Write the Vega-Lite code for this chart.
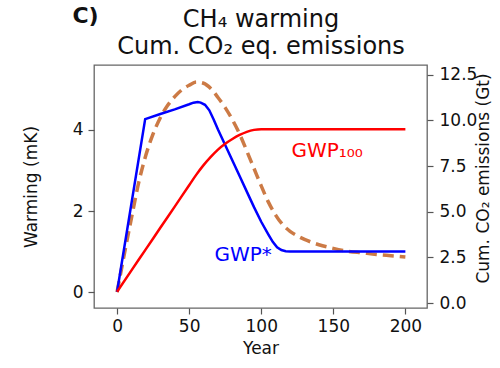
{
  "$schema": "https://vega.github.io/schema/vega-lite/v6.json",
  "width": 333,
  "height": 243,
  "autosize": {"type": "none"},
  "padding": {"left": 94, "top": 65, "right": 73, "bottom": 60},
  "background": "white",
  "config": {
    "view": {"stroke": "#666", "strokeWidth": 1.3},
    "axis": {
      "labelFont": "DejaVu Sans",
      "titleFont": "DejaVu Sans",
      "labelFontSize": 17,
      "titleFontSize": 17,
      "titleFontWeight": "normal",
      "labelColor": "#111",
      "titleColor": "#111",
      "tickColor": "#555",
      "tickSize": 6,
      "tickWidth": 1.2,
      "domain": false,
      "grid": false
    }
  },
  "datasets": {
    "warming": [
      {"year": 0, "mK": 0}, {"year": 5, "mK": 0.93}, {"year": 10, "mK": 1.83}, {"year": 15, "mK": 2.7},
      {"year": 20, "mK": 3.38}, {"year": 25, "mK": 3.9}, {"year": 30, "mK": 4.3}, {"year": 35, "mK": 4.6},
      {"year": 40, "mK": 4.82}, {"year": 45, "mK": 4.99}, {"year": 50, "mK": 5.1}, {"year": 55, "mK": 5.18},
      {"year": 60, "mK": 5.15}, {"year": 65, "mK": 5.02}, {"year": 70, "mK": 4.8}, {"year": 75, "mK": 4.55},
      {"year": 80, "mK": 4.25}, {"year": 85, "mK": 3.9}, {"year": 90, "mK": 3.48}, {"year": 95, "mK": 3.05},
      {"year": 100, "mK": 2.62}, {"year": 105, "mK": 2.22}, {"year": 110, "mK": 1.9}, {"year": 115, "mK": 1.66},
      {"year": 120, "mK": 1.5}, {"year": 125, "mK": 1.39}, {"year": 130, "mK": 1.3}, {"year": 135, "mK": 1.23},
      {"year": 140, "mK": 1.17}, {"year": 150, "mK": 1.08}, {"year": 160, "mK": 1.01}, {"year": 170, "mK": 0.97},
      {"year": 180, "mK": 0.93}, {"year": 190, "mK": 0.9}, {"year": 200, "mK": 0.87}
    ],
    "gwpstar": [
      {"year": 0, "Gt": 0.62}, {"year": 19.5, "Gt": 10.07}, {"year": 30, "Gt": 10.35}, {"year": 40, "Gt": 10.6},
      {"year": 50, "Gt": 10.88}, {"year": 53, "Gt": 10.97}, {"year": 56, "Gt": 11.0}, {"year": 58, "Gt": 10.97},
      {"year": 61, "Gt": 10.85}, {"year": 64, "Gt": 10.55}, {"year": 67, "Gt": 10.05}, {"year": 70, "Gt": 9.5},
      {"year": 75, "Gt": 8.65}, {"year": 80, "Gt": 7.8}, {"year": 85, "Gt": 6.95}, {"year": 90, "Gt": 6.1},
      {"year": 95, "Gt": 5.25}, {"year": 100, "Gt": 4.45}, {"year": 105, "Gt": 3.75}, {"year": 108, "Gt": 3.35},
      {"year": 111, "Gt": 3.05}, {"year": 114, "Gt": 2.9}, {"year": 117, "Gt": 2.84}, {"year": 120, "Gt": 2.82},
      {"year": 200, "Gt": 2.82}
    ],
    "gwp100": [
      {"year": 0, "Gt": 0.62}, {"year": 10, "Gt": 1.79}, {"year": 20, "Gt": 2.95}, {"year": 30, "Gt": 4.12},
      {"year": 40, "Gt": 5.28}, {"year": 50, "Gt": 6.45}, {"year": 55, "Gt": 7.03}, {"year": 60, "Gt": 7.55},
      {"year": 65, "Gt": 8.0}, {"year": 70, "Gt": 8.4}, {"year": 75, "Gt": 8.72}, {"year": 80, "Gt": 8.98},
      {"year": 85, "Gt": 9.2}, {"year": 90, "Gt": 9.37}, {"year": 95, "Gt": 9.48}, {"year": 100, "Gt": 9.52},
      {"year": 150, "Gt": 9.52}, {"year": 200, "Gt": 9.52}
    ],
    "labels": [
      {"series": "GWP*", "label": "GWP*", "year": 67.6, "Gt": 2.28},
      {"series": "GWP100", "label": "GWP₁₀₀", "year": 121, "Gt": 8.0}
    ],
    "panel": [
      {"label": "C)", "year": -31, "mK": 6.63}
    ]
  },
  "layer": [
    {
      "data": {"name": "warming"},
      "mark": {"type": "line", "color": "#cc7a45", "strokeWidth": 3.5, "strokeDash": [11, 6], "interpolate": "monotone"},
      "encoding": {
        "x": {
          "field": "year", "type": "quantitative",
          "scale": {"domain": [-16, 215], "nice": false, "zero": false},
          "axis": {"values": [0, 50, 100, 150, 200], "title": "Year", "labelPadding": 4, "titlePadding": 6, "labelFlush": false}
        },
        "y": {
          "field": "mK", "type": "quantitative",
          "scale": {"domain": [-0.39, 5.6], "nice": false, "zero": false},
          "axis": {"orient": "left", "values": [0, 2, 4], "title": "Warming (mK)", "labelPadding": 5, "titlePadding": 32}
        }
      }
    },
    {
      "data": {"name": "gwpstar"},
      "mark": {"type": "line", "strokeWidth": 2.5, "color": "#0000ff"},
      "encoding": {
        "x": {
          "field": "year", "type": "quantitative",
          "axis": {
            "orient": "top", "ticks": false, "labels": false, "domain": false,
            "title": ["CH₄ warming", "Cum. CO₂ eq. emissions"],
            "titleFontSize": 24, "titleLineHeight": 27, "titlePadding": 7
          }
        },
        "y": {
          "field": "Gt", "type": "quantitative",
          "scale": {"domain": [-0.27, 13.03], "nice": false, "zero": false},
          "axis": {
            "orient": "right", "values": [0, 2.5, 5, 7.5, 10, 12.5], "format": ".1f",
            "title": "Cum. CO₂ emissions (Gt)", "titleAngle": 270, "titleBaseline": "top",
            "labelPadding": 6, "titlePadding": -1, "titleY": 113
          }
        }
      }
    },
    {
      "data": {"name": "gwp100"},
      "mark": {"type": "line", "strokeWidth": 2.5, "color": "#ff0000", "interpolate": "monotone"},
      "encoding": {
        "x": {"field": "year", "type": "quantitative", "axis": null},
        "y": {
          "field": "Gt", "type": "quantitative",
          "scale": {"domain": [-0.27, 13.03], "nice": false, "zero": false},
          "axis": null
        }
      }
    },
    {
      "data": {"name": "labels"},
      "mark": {"type": "text", "font": "DejaVu Sans", "fontSize": 20, "align": "left", "baseline": "alphabetic"},
      "encoding": {
        "x": {"field": "year", "type": "quantitative", "axis": null},
        "y": {
          "field": "Gt", "type": "quantitative",
          "scale": {"domain": [-0.27, 13.03], "nice": false, "zero": false},
          "axis": null
        },
        "text": {"field": "label"},
        "color": {
          "field": "series", "type": "nominal",
          "scale": {"domain": ["GWP*", "GWP100"], "range": ["#0000ff", "#ff0000"]},
          "legend": null
        }
      }
    },
    {
      "data": {"name": "panel"},
      "mark": {"type": "text", "font": "DejaVu Sans", "fontSize": 22, "fontWeight": "bold", "align": "left", "baseline": "alphabetic", "color": "#111"},
      "encoding": {
        "x": {"field": "year", "type": "quantitative", "axis": null},
        "y": {
          "field": "mK", "type": "quantitative",
          "scale": {"domain": [-0.39, 5.6], "nice": false, "zero": false},
          "axis": null
        },
        "text": {"field": "label"}
      }
    }
  ],
  "resolve": {"scale": {"y": "independent"}, "axis": {"x": "independent"}}
}
